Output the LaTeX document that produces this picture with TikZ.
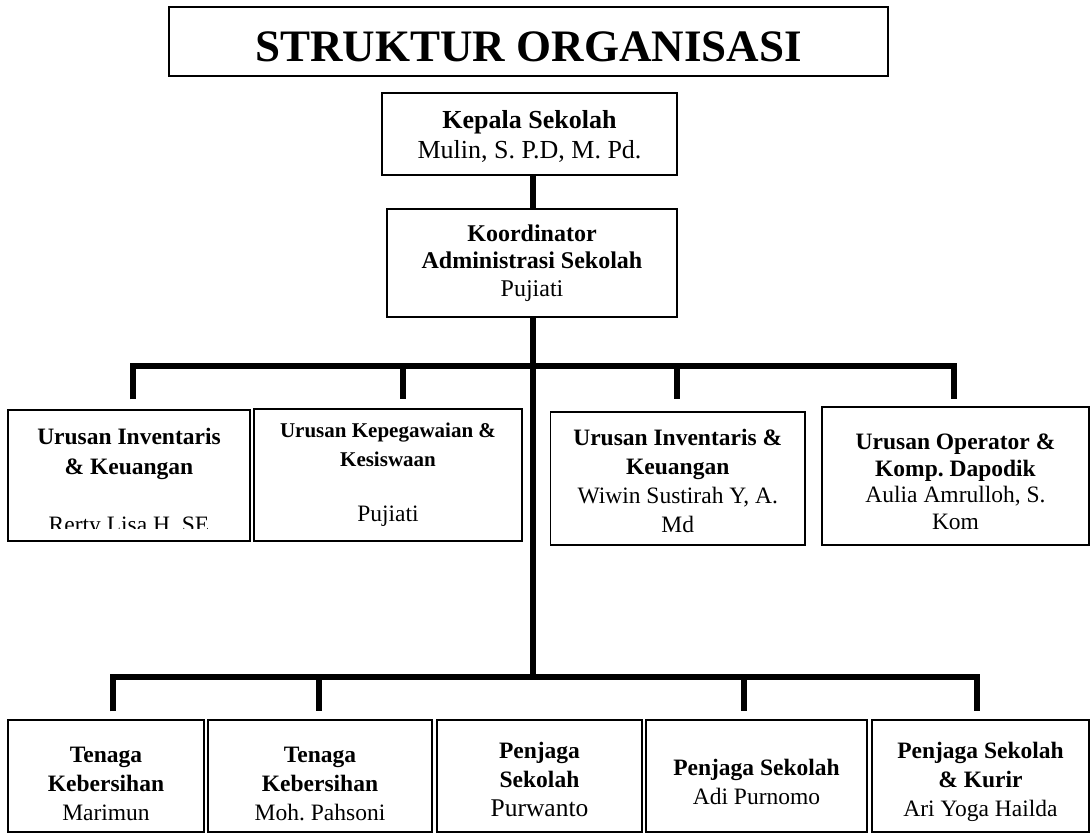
\documentclass[tikz,border=0pt]{standalone}
\usepackage{fontspec}
\setmainfont{Liberation Serif}
\usetikzlibrary{calc}

\newcommand{\rolesmall}{\fontsize{21}{28}\selectfont\bfseries}
\newcommand{\lift}[1]{\rule{0pt}{#1}}
\frenchspacing

\begin{document}
\begin{tikzpicture}[x=1pt, y=-1pt,
    box/.style={draw, line width=1.2pt, align=center, inner sep=0pt, font=\fontsize{23.5}{29}\selectfont},
    link/.style={line width=6pt, line join=miter}]
    \useasboundingbox (0,0) rectangle (1091,834);

    \coordinate (UA) at (133,366);
    \coordinate (UB) at (403,366);
    \coordinate (UC) at (677,366);
    \coordinate (UD) at (954,366);

    \coordinate (LA) at (113,677);
    \coordinate (LB) at (319,677);
    \coordinate (LC) at (533,677);
    \coordinate (LD) at (744,677);
    \coordinate (LE) at (977,677);

    \coordinate (cut) at (0,528.6);

    \node[box, minimum width=719pt, minimum height=69pt, font=\fontsize{45}{54}\selectfont\bfseries] (title) at (528.5,41.5) {\lift{40pt}STRUKTUR ORGANISASI};

    \node[box, minimum width=295pt, minimum height=82pt, font=\fontsize{26}{30}\selectfont] (kepsek) at (529.5,134) {\lift{24pt}\textbf{Kepala Sekolah}\\Mulin, S. P.D, M. Pd.};
    \node[box, minimum width=290pt, minimum height=108pt, font=\fontsize{24}{27.5}\selectfont] (koord) at (532,263) {\textbf{Koordinator}\\\textbf{Administrasi Sekolah}\\Pujiati};

    \node[box, minimum width=242pt, minimum height=131pt] (u1) at (129,475.5) {};
    \node[anchor=north, align=center, inner sep=0pt, font=\fontsize{23.5}{30.4}\selectfont\bfseries] (u1role) at (129,428) {Urusan Inventaris\\\& Keuangan};
    \begin{scope}
        \clip (u1.north west) rectangle (u1.east |- cut);
        \node[anchor=base, inner sep=0pt, font=\fontsize{23.5}{29}\selectfont] (u1name) at (129,532.6) {Rerty Lisa H. SE};
    \end{scope}
    \node[box, minimum width=268pt, minimum height=132pt] (u2) at (388,475) {{\rolesmall Urusan Kepegawaian \&}\\{\rolesmall Kesiswaan}\\[26pt]Pujiati};
    \node[box, minimum width=254.5pt, minimum height=133pt] (u3) at (677.75,478.5) {\lift{21.6pt}\textbf{Urusan Inventaris \&}\\\textbf{Keuangan}\\Wiwin Sustirah Y, A.\\Md};
    \node[box, minimum width=267pt, minimum height=138pt, font=\fontsize{23.5}{26.5}\selectfont] (u4) at (955.5,476) {\lift{27.6pt}\textbf{Urusan Operator \&}\\\textbf{Komp. Dapodik}\\Aulia Amrulloh, S.\\Kom};

    \node[box, minimum width=196pt, minimum height=112pt] (b1) at (106,776) {\lift{31.6pt}\textbf{Tenaga}\\\textbf{Kebersihan}\\Marimun};
    \node[box, minimum width=224pt, minimum height=112pt] (b2) at (320,776) {\lift{31.6pt}\textbf{Tenaga}\\\textbf{Kebersihan}\\Moh. Pahsoni};
    \node[box, minimum width=205pt, minimum height=112pt] (b3) at (539.5,776) {\lift{23.6pt}\textbf{Penjaga}\\\textbf{Sekolah}\\{\fontsize{25.5}{29}\selectfont Purwanto}};
    \node[box, minimum width=221pt, minimum height=112pt] (b4) at (756.5,776) {\lift{27.6pt}\textbf{Penjaga Sekolah}\\Adi Purnomo};
    \node[box, minimum width=217pt, minimum height=112pt] (b5) at (980.5,776) {\lift{27.6pt}\textbf{Penjaga Sekolah}\\\textbf{\& Kurir}\\Ari Yoga Hailda};

    \draw[link] (kepsek.south -| LC) -- (koord.north -| LC);
    \draw[link] (koord.south -| LC) -- (LC);

    \draw[link, shorten <=10pt, shorten >=7pt] (UA |- u1.north) -- (UA) -- (UD) -- (UD |- u4.north);
    \draw[link, shorten >=9pt] (UB) -- (UB |- u2.north);
    \draw[link, shorten >=12pt] (UC) -- (UC |- u3.north);

    \draw[link, shorten <=8pt, shorten >=8pt] (LA |- b1.north) -- (LA) -- (LE) -- (LE |- b5.north);
    \draw[link, shorten >=8pt] (LB) -- (LB |- b2.north);
    \draw[link, shorten >=8pt] (LD) -- (LD |- b4.north);
\end{tikzpicture}
\end{document}
